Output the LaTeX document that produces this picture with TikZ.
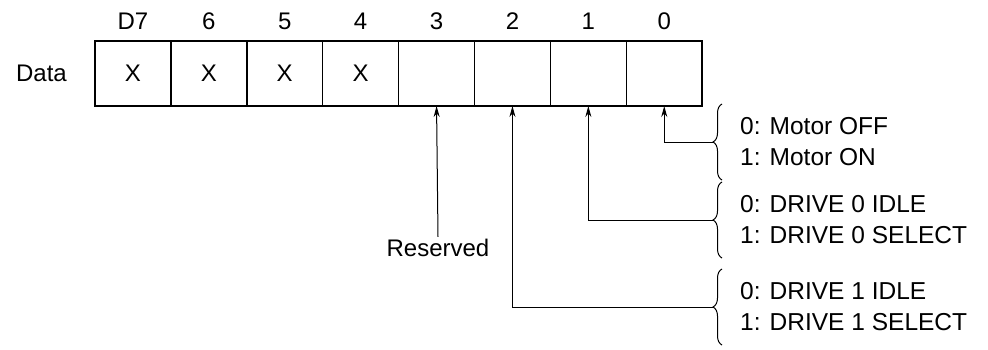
\documentclass[tikz,border=0pt]{standalone}
\usepackage{fontspec}
\setmainfont{Liberation Sans}
\usetikzlibrary{arrows.meta,positioning,calc,decorations.pathreplacing}

\begin{document}
\begin{tikzpicture}[x=1pt,y=-1pt,
    bitcell/.style={draw,line width=1.5pt,minimum width=75.9pt,minimum height=65pt,
      inner sep=0pt,outer sep=0pt,font=\fontsize{24}{28}\selectfont},
    lbl/.style={font=\fontsize{24}{28}\selectfont,inner sep=2pt},
    desc/.style={font=\fontsize{24.5}{31}\selectfont,align=left,anchor=west,inner sep=0pt},
    sig/.style={line width=1pt,-{Stealth[length=11pt,width=6pt]}},
    curly/.style={decorate,decoration={brace,amplitude=9pt,aspect=0.5},line width=1pt}]
  \useasboundingbox (0,0) rectangle (988,349);
  % register cells
  \foreach \lab/\val [count=\k from 0] in {D7/X,6/X,5/X,4/X,3/,2/,1/,0/} {
    \pgfmathtruncatemacro{\bit}{7-\k}
    \node[bitcell] (b\bit) at ({95+75.9*\k+37.95},73.5) {\val};
    \node[lbl,above=9pt of b\bit] (h\bit) {\lab};
  }
  \node[lbl,left=26pt of b7] (data) {Data};
  % bit meanings
  \node[desc] (d0) at (740,142) {0: Motor OFF\\1: Motor ON};
  \node[desc] (d1) at (740,220) {0: DRIVE 0 IDLE\\1: DRIVE 0 SELECT};
  \node[desc] (d2) at (740,307) {0: DRIVE 1 IDLE\\1: DRIVE 1 SELECT};
  \foreach \i in {0,1,2} {
    \draw[curly] ($(d\i.west)+(-18,38)$) -- ($(d\i.west)+(-18,-38)$);
    \coordinate (t\i) at ($(d\i.west)+(-27,0)$);
    \draw[sig] (t\i) -| (b\i.south);
  }
  % reserved bit
  \node[lbl] (res) at (438,248) {Reserved};
  \draw[sig] (res.north) -- (b3.south);
\end{tikzpicture}
\end{document}
